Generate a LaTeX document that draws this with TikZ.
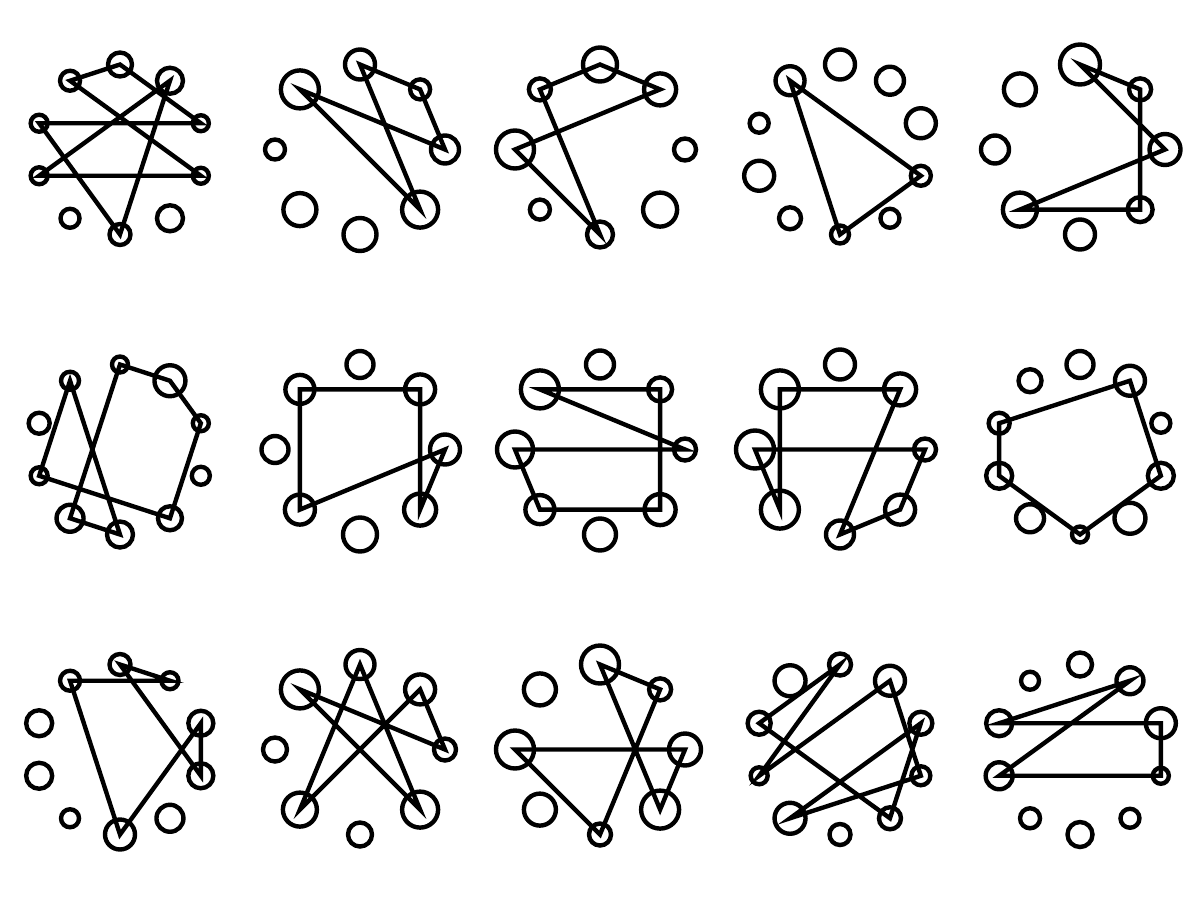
\documentclass[tikz,border=0pt]{standalone}
\usetikzlibrary{calc}
\tikzset{
  pt/.style={circle, draw, line width=3.3pt, inner sep=0pt, outer sep=0pt},
  link/.style={line width=3.3pt, line join=miter}
}
\newcommand\mkpanel[5]{%
  \foreach \r [count=\i from 0] in {#5}{%
    \pgfmathsetmacro\dd{1.5*\r}%
    \node[pt, minimum size=\dd pt] (#1\i) at ($(#2,#3)+({270-360*\i/#4}:85)$) {};
  }}
\begin{document}
\begin{tikzpicture}[x=0.75pt,y=-0.75pt]
\useasboundingbox (0,0) rectangle (1200,900);
% row 1
\mkpanel{pA}{120}{149.5}{10}{12,10,8.5,8.5,9.5,10.5,13,8,8,13}
\draw[link] (pA1.center) -- (pA0.center) -- (pA8.center) -- (pA2.center) -- (pA5.center) -- (pA9.center) -- (pA3.center) -- (pA7.center) -- cycle;
\mkpanel{pB}{360}{149.5}{8}{15,19,10,16.5,16.5,18,14,10}
\draw[link] (pB0.center) -- (pB7.center) -- (pB6.center) -- (pB1.center) -- (pB5.center) -- cycle;
\mkpanel{pC}{600}{149.5}{8}{17,11,19,10,13,17,11,16}
\draw[link] (pC4.center) -- (pC1.center) -- (pC0.center) -- (pC7.center) -- (pC2.center) -- cycle;
\mkpanel{pD}{840}{149.5}{10}{15,14.5,9.5,15,11,9,9.5,10,15,14}
\draw[link] (pD1.center) -- (pD7.center) -- (pD5.center) -- cycle;
\mkpanel{pE}{1080}{149.5}{8}{20,16,14,17,15,12.5,15.5,11}
\draw[link] (pE7.center) -- (pE0.center) -- (pE6.center) -- (pE3.center) -- (pE5.center) -- cycle;
% row 2
\mkpanel{pF}{120}{449.5}{10}{8,9,10.5,8.5,13.5,13,12,9,8,15.5}
\draw[link] (pF3.center) -- (pF1.center) -- (pF5.center) -- (pF4.center) -- (pF0.center) -- (pF9.center) -- (pF8.center) -- (pF6.center) -- cycle;
\mkpanel{pG}{360}{449.5}{8}{13.5,14.5,13.5,15,17,16,15,15}
\draw[link] (pG3.center) -- (pG1.center) -- (pG7.center) -- (pG5.center) -- (pG6.center) -- cycle;
\mkpanel{pH}{600}{449.5}{8}{14,19,18,14.5,16,15.5,11,12}
\draw[link] (pH6.center) -- (pH1.center) -- (pH7.center) -- (pH5.center) -- (pH3.center) -- (pH2.center) -- cycle;
\mkpanel{pI}{840}{449.5}{8}{15,19,19,19,14,15,11,16}
\draw[link] (pI3.center) -- (pI1.center) -- (pI7.center) -- (pI4.center) -- (pI5.center) -- (pI6.center) -- (pI2.center) -- cycle;
\mkpanel{pJ}{1080}{449.5}{10}{13.5,11.5,10.5,13,14,8,15.5,13,9.5,15}
\draw[link] (pJ2.center) -- (pJ9.center) -- (pJ7.center) -- (pJ5.center) -- (pJ3.center) -- cycle;
% row 3
\mkpanel{pK}{120}{749.5}{10}{10.5,10,13,13,9,15,13.5,12.5,12.5,8.5}
\draw[link] (pK0.center) -- (pK9.center) -- (pK1.center) -- (pK5.center) -- (pK8.center) -- (pK7.center) -- cycle;
\mkpanel{pL}{360}{749.5}{8}{14.5,19,12,17,12,18,11,15}
\draw[link] (pL6.center) -- (pL1.center) -- (pL5.center) -- (pL0.center) -- (pL3.center) -- (pL7.center) -- cycle;
\mkpanel{pM}{600}{749.5}{8}{19,16,19,16,11,19,16,11}
\draw[link] (pM0.center) -- (pM7.center) -- (pM4.center) -- (pM2.center) -- (pM6.center) -- (pM5.center) -- cycle;
\mkpanel{pN}{840}{749.5}{10}{11,15.5,11.5,8.5,15.5,10.5,11,9.5,11.5,15}
\draw[link] (pN4.center) -- (pN8.center) -- (pN6.center) -- (pN2.center) -- (pN0.center) -- (pN3.center) -- (pN9.center) -- (pN7.center) -- cycle;
\mkpanel{pO}{1080}{749.5}{10}{12,9,13,13.5,10,12.5,9.5,8,15,13.5}
\draw[link] (pO9.center) -- (pO2.center) -- (pO8.center) -- (pO7.center) -- (pO3.center) -- cycle;
\end{tikzpicture}
\end{document}
